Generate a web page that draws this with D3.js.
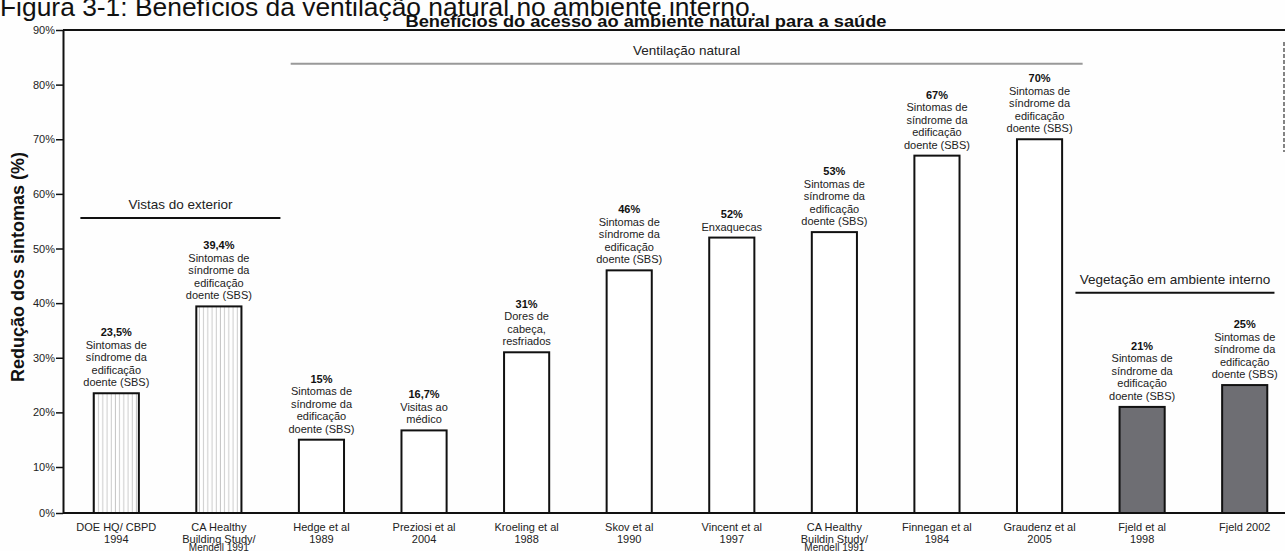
<!DOCTYPE html>
<html>
<head>
<meta charset="utf-8">
<script src="https://cdn.jsdelivr.net/npm/d3@7"></script>
<style>
  body { margin: 0; background: #fff; }
  svg { display: block; font-family: "Liberation Sans", Arial, sans-serif; }
</style>
</head>
<body>
<div id="chart"></div>
<script>
// Studies shown on the x axis (one entry per line of the label)
const categories = [
  ['DOE HQ/ CBPD', '1994'],
  ['CA Healthy', 'Building Study/', 'Mendell 1991'],
  ['Hedge et al', '1989'],
  ['Preziosi et al', '2004'],
  ['Kroeling et al', '1988'],
  ['Skov et al', '1990'],
  ['Vincent et al', '1997'],
  ['CA Healthy', 'Buildin Study/', 'Mendell 1991'],
  ['Finnegan et al', '1984'],
  ['Graudenz et al', '2005'],
  ['Fjeld et al', '1998'],
  ['Fjeld 2002'],
];

// Reduction of symptoms (%)
const values = [23.5, 39.4, 15, 16.7, 31, 46, 52, 53, 67, 70, 21, 25];
const valueLabels = ['23,5%', '39,4%', '15%', '16,7%', '31%', '46%', '52%', '53%', '67%', '70%', '21%', '25%'];

const sbs = ['Sintomas de', 'síndrome da', 'edificação', 'doente (SBS)'];
const descriptions = [
  sbs, sbs, sbs,
  ['Visitas ao', 'médico'],
  ['Dores de', 'cabeça,', 'resfriados'],
  sbs,
  ['Enxaquecas'],
  sbs, sbs, sbs, sbs, sbs,
];

// Which group each study belongs to
const groupNames = ['Vistas do exterior', 'Ventilação natural', 'Vegetação em ambiente interno'];
const categoryGroup = [0, 0, 1, 1, 1, 1, 1, 1, 1, 1, 2, 2];
// group bracket extent (in category index units) and level (in %)
const groupSpans = [[-0.35, 1.6], [1.7, 9.42], [9.35, 11.29]];
const groupLevels = [55.6, 83.8, 41.9];

const yTicks = [0, 10, 20, 30, 40, 50, 60, 70, 80, 90];

const title = 'Figura 3-1: Benefícios da ventilação natural no ambiente interno.';
const chartTitle = 'Benefícios do acesso ao ambiente natural para a saúde';
const yTitle = 'Redução dos sintomas (%)';

const width = 1285;
const height = 551;
const axisX = 63;

const svg = d3.select('#chart').append('svg')
  .attr('width', width)
  .attr('height', height);

svg.append('rect').attr('width', width).attr('height', height).attr('fill', '#fefefe');

const defs = svg.append('defs');
const hatch = defs.append('pattern')
  .attr('id', 'hatch')
  .attr('patternUnits', 'userSpaceOnUse')
  .attr('width', 4.2)
  .attr('height', 10);
hatch.append('rect').attr('width', 4.2).attr('height', 10).attr('fill', '#fff');
hatch.append('line')
  .attr('x1', 2).attr('x2', 2).attr('y1', 0).attr('y2', 10)
  .attr('stroke', '#b8b8b8').attr('stroke-width', 0.8);

const groupFill = ['url(#hatch)', '#fff', '#6e6e73'];

// scales
const x = d3.scaleBand()
  .domain(d3.range(categories.length))
  .range([65, 1296])
  .paddingInner(0.56)
  .paddingOuter(0.28);

// the 0-10% band is compressed in the original figure
const y = d3.scaleLinear()
  .domain([0, 10, 90])
  .range([513, 467, 30]);

const xPos = d3.scaleLinear()
  .domain([0, categories.length - 1])
  .range([x(0) + x.bandwidth() / 2, x(categories.length - 1) + x.bandwidth() / 2]);

// figure caption (cut at the top like the source scan)
svg.append('text')
  .attr('x', 0)
  .attr('y', 15.5)
  .attr('font-size', 26)
  .attr('textLength', 757)
  .attr('lengthAdjust', 'spacingAndGlyphs')
  .attr('fill', '#111')
  .text(title);

svg.append('text')
  .attr('x', 646)
  .attr('y', 26.5)
  .attr('text-anchor', 'middle')
  .attr('font-size', 16)
  .attr('font-weight', 'bold')
  .attr('textLength', 481)
  .attr('lengthAdjust', 'spacingAndGlyphs')
  .attr('fill', '#111')
  .text(chartTitle);

// frame
svg.append('line')
  .attr('x1', axisX).attr('x2', width).attr('y1', y(90)).attr('y2', y(90))
  .attr('stroke', '#111').attr('stroke-width', 2);

// y axis
const yAxis = svg.append('g')
  .attr('transform', `translate(${axisX},0)`)
  .call(d3.axisLeft(y).tickValues(yTicks).tickFormat((d) => `${d}%`).tickSize(7).tickSizeOuter(0).tickPadding(1));
yAxis.select('.domain').attr('stroke', '#111').attr('stroke-width', 2);
yAxis.selectAll('.tick line').attr('stroke', '#111').attr('stroke-width', 1.5);
yAxis.selectAll('.tick text')
  .attr('font-size', 11)
  .attr('font-family', '"Liberation Sans", Arial, sans-serif')
  .attr('fill', '#222');

svg.append('text')
  .attr('transform', 'translate(24,267) rotate(-90)')
  .attr('text-anchor', 'middle')
  .attr('font-size', 18)
  .attr('font-weight', 'bold')
  .attr('fill', '#111')
  .text(yTitle);

// group brackets
const groups = svg.append('g').selectAll('g')
  .data(groupNames)
  .enter()
  .append('g');

groups.append('line')
  .attr('x1', (d, i) => xPos(groupSpans[i][0]))
  .attr('x2', (d, i) => xPos(groupSpans[i][1]))
  .attr('y1', (d, i) => y(groupLevels[i]))
  .attr('y2', (d, i) => y(groupLevels[i]))
  .attr('stroke', (d, i) => (i === 1 ? '#999' : '#111'))
  .attr('stroke-width', 2);

groups.append('text')
  .attr('x', (d, i) => xPos((groupSpans[i][0] + groupSpans[i][1]) / 2))
  .attr('y', (d, i) => y(groupLevels[i]) - 9)
  .attr('text-anchor', 'middle')
  .attr('font-size', 13.5)
  .attr('fill', '#222')
  .text((d) => d);

// bars
const bars = svg.append('g').selectAll('g')
  .data(values)
  .enter()
  .append('g');

bars.append('rect')
  .attr('x', (d, i) => x(i))
  .attr('y', (d) => y(d))
  .attr('width', x.bandwidth())
  .attr('height', (d) => y(0) - y(d))
  .attr('fill', (d, i) => groupFill[categoryGroup[i]])
  .attr('stroke', '#111')
  .attr('stroke-width', 2);

// bar annotations: bold value then description lines
const lineH = 12.5;
bars.each(function (d, i) {
  const g = d3.select(this);
  const cx = x(i) + x.bandwidth() / 2;
  const lines = descriptions[i];
  const bottom = y(d) - 7;
  const t = g.append('text')
    .attr('text-anchor', 'middle')
    .attr('font-size', 11)
    .attr('fill', '#222');
  t.append('tspan')
    .attr('x', cx)
    .attr('y', bottom - lines.length * lineH)
    .attr('font-weight', 'bold')
    .attr('fill', '#111')
    .text(valueLabels[i]);
  lines.forEach((l, k) => {
    t.append('tspan')
      .attr('x', cx)
      .attr('y', bottom - (lines.length - 1 - k) * lineH)
      .text(l);
  });
});

// baseline
svg.append('line')
  .attr('x1', axisX).attr('x2', width).attr('y1', y(0)).attr('y2', y(0))
  .attr('stroke', '#111').attr('stroke-width', 2);

// x labels
const xl = svg.append('g').selectAll('text')
  .data(categories)
  .enter()
  .append('text')
  .attr('text-anchor', 'middle')
  .attr('font-size', 11)
  .attr('fill', '#222');

xl.each(function (lines, i) {
  const t = d3.select(this);
  const cx = x(i) + x.bandwidth() / 2;
  const squeezed = lines.length > 2;
  lines.forEach((l, k) => {
    t.append('tspan')
      .attr('x', cx)
      .attr('y', 531 + (k === 0 ? 0 : (squeezed ? 11.5 : 12) + (k - 1) * 8))
      .attr('font-size', k < 2 ? 11 : 10)
      .text(l);
  });
});

// scan artefact on the right edge
svg.append('line')
  .attr('x1', 1284).attr('x2', 1284).attr('y1', 42).attr('y2', 152)
  .attr('stroke', '#333').attr('stroke-width', 1.2)
  .attr('stroke-dasharray', '4,2');
</script>
</body>
</html>
